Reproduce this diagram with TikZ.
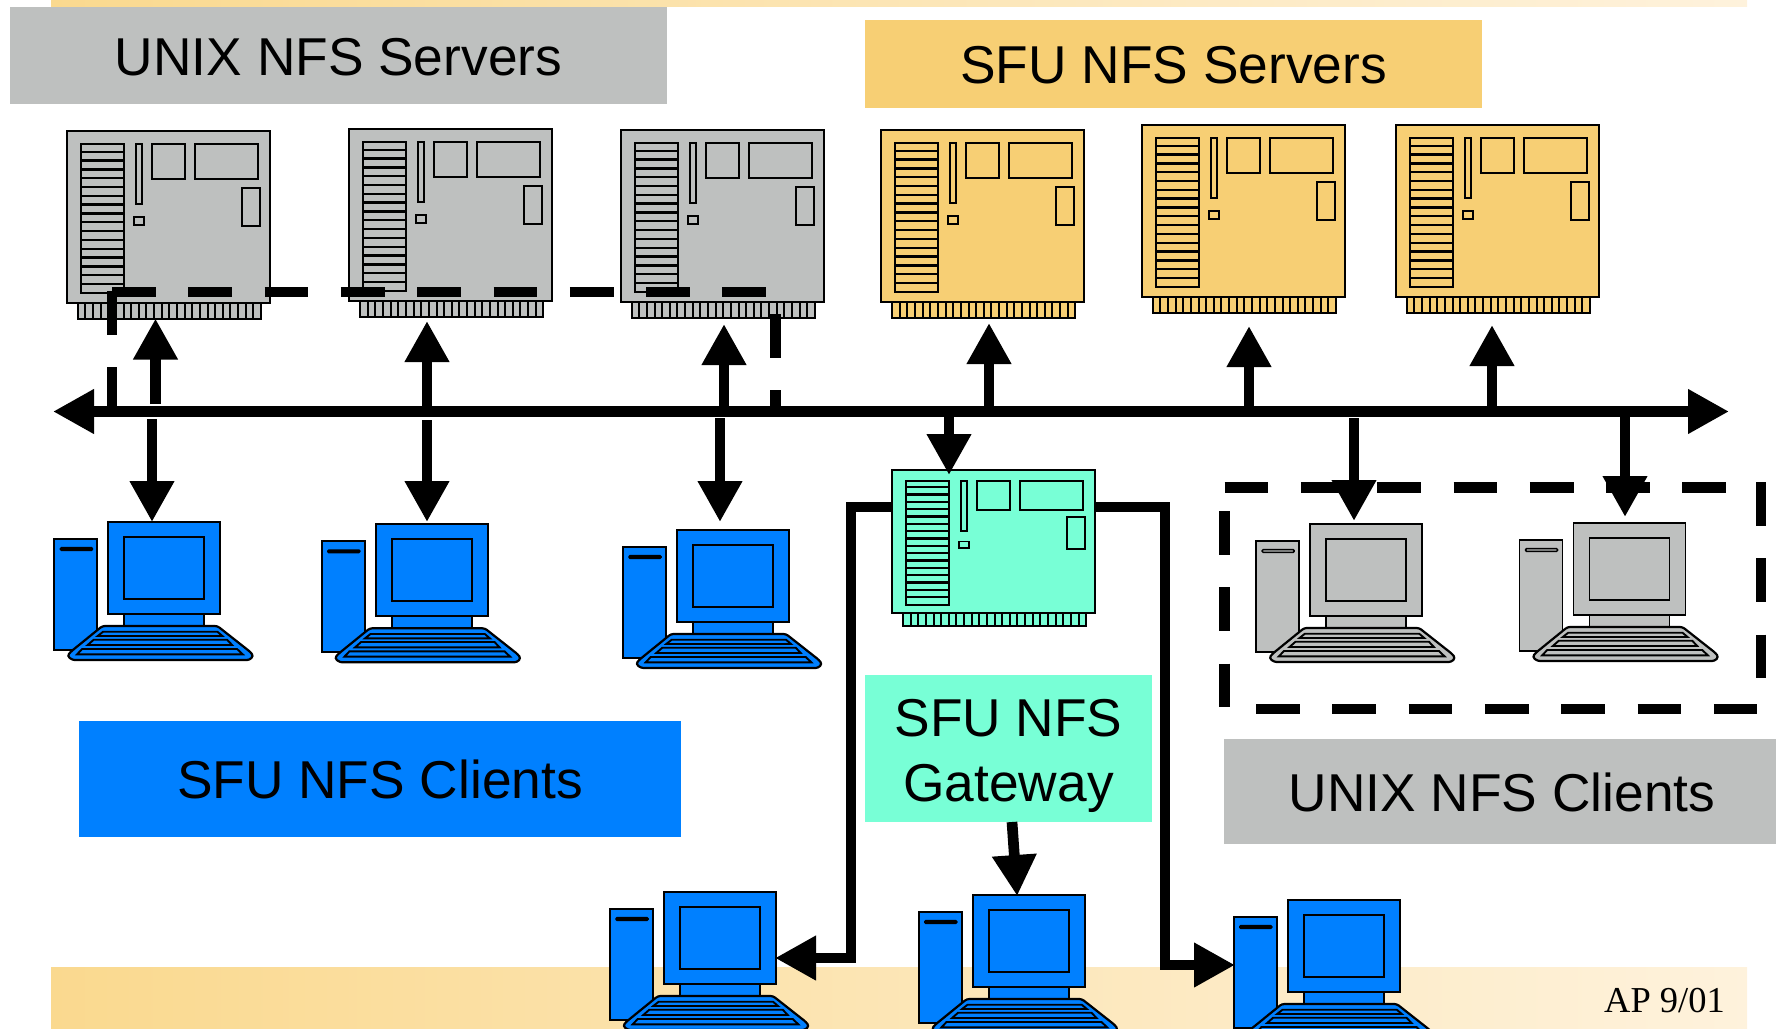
\documentclass[tikz,border=0pt]{standalone}
\usepackage{fontspec}
\setmainfont{Liberation Sans}
\newfontfamily\serifface{Liberation Serif}
\usetikzlibrary{arrows.meta}
\definecolor{grayc}{HTML}{BEC0BF}
\definecolor{orangec}{HTML}{F7CF74}
\definecolor{bluec}{HTML}{0080FF}
\definecolor{aquac}{HTML}{78FFD6}
\definecolor{bandl}{HTML}{FAD98F}
\definecolor{bandr}{HTML}{FEF2DC}
\tikzset{
  part/.style={draw=black,line width=1.9pt,line join=miter},
  label box/.style={inner sep=0pt,outer sep=0pt,align=center,font=\fontsize{53.3pt}{65.5pt}\selectfont},
  oneline/.style={label box,text height=39.5pt,text depth=0pt},
  wire/.style={line width=10.7pt,draw=black,line cap=butt,line join=miter},
  link/.style={wire,shorten >=-2pt,-{Triangle[length=41pt,width=42pt]}},
  both/.style={wire,shorten >=-2pt,shorten <=-2pt,{Triangle[length=41pt,width=42pt]}-{Triangle[length=41pt,width=42pt]}},
  dashline/.style={wire,dash pattern=on 43.7pt off 32.6pt},
}
\newcommand{\boardpic}[4]{%
  \begin{scope}[shift={(#1,#2)},yscale=#3]
    \draw[part,fill=#4] (0,0) rectangle (203,172);
    \draw[part,fill=#4] (11,172) rectangle (194,188);
    \foreach \t in {1,...,23} {\draw[black,line width=2pt] ({11+\t*7.63},172) -- ({11+\t*7.63},188);}
    \draw[part,fill=#4] (14,13) rectangle (57,162);
    \foreach \t in {0,...,15} {\draw[black,line width=2.4pt] (14,{20.7+\t*8.82}) -- (57,{20.7+\t*8.82});}
    \draw[part,fill=#4] (69,13) rectangle (75,73);
    \draw[part,fill=#4] (67,86) rectangle (77,94);
    \draw[part,fill=#4] (85,13) rectangle (118,48);
    \draw[part,fill=#4] (128,13) rectangle (191,48);
    \draw[part,fill=#4] (175,57) rectangle (193,95);
  \end{scope}}
\newcommand{\pcpic}[4]{%
  \begin{scope}[shift={(#1,#2)}]
    \draw[part,fill=#3] (-54,17) rectangle (-11,128);
    \draw[black,line width=1.5pt,fill=#4,rounded corners=1pt] (-48,25.7) rectangle (-16,28.3);
    \draw[part,fill=#3] (0,0) rectangle (112,92);
    \draw[part,fill=#3] (16,15) rectangle (96,77);
    \draw[part,fill=#3] (16,92) rectangle (96,104);
    \draw[part,fill=#3,line width=2.2pt,rounded corners=2.5pt] (-6,104) -- (109,104) -- (142,130) -- (145,134) -- (141,138) -- (-36,138) -- (-41,134) -- (-38,130) -- cycle;
    \draw[part,fill=#3] (-5.3,109.7) -- (109,109.7) -- (114,114) -- (-10.7,114) -- cycle;
    \draw[part,fill=#3] (-14.7,117.7) -- (118.7,117.7) -- (123.7,123) -- (-20.7,123) -- cycle;
    \draw[part,fill=#3] (-26.3,127) -- (128.7,127) -- (134.3,132.3) -- (-31.3,132.3) -- cycle;
  \end{scope}}
\begin{document}
\begin{tikzpicture}[x=1pt,y=-1pt]
\useasboundingbox (0,0) rectangle (1776,1028);
% bands
\shade[left color=bandl,right color=bandr] (51,0) rectangle (1747,6);
\shade[left color=bandl,right color=bandr] (51,967.5) rectangle (1747,1028);
% labels
\node[oneline,fill=grayc,minimum width=657pt,minimum height=97pt] (unixsrv) at (338.5,55.5) {UNIX NFS Servers};
\node[oneline,fill=orangec,minimum width=617pt,minimum height=88pt] (sfusrv) at (1173.5,64) {SFU NFS Servers};
\node[oneline,fill=bluec,minimum width=602pt,minimum height=116pt] (sfucli) at (380,778.5) {SFU NFS Clients};
\node[label box,fill=aquac,minimum width=287pt,minimum height=147pt] (gwlabel) at (1008.5,748.5) {\rule{0pt}{52pt}SFU NFS\\Gateway};
\node[label box,fill=grayc,minimum width=552pt,minimum height=105pt,text height=39.5pt,text depth=0pt,xshift=0pt] (unixcli) at (1500,791.5) {\hspace*{4pt}UNIX NFS Clients};
\node[anchor=base east,inner sep=0pt,font=\serifface\fontsize{36.5pt}{40pt}\selectfont] (stamp) at (1725,1012.5) {AP 9/01};
% server boards
\boardpic{66.8}{131}{1}{grayc}
\boardpic{349.2}{129}{1}{grayc}
\boardpic{620.7}{130}{1}{grayc}
\boardpic{881.2}{130}{1}{orangec}
\boardpic{1141.8}{125}{1}{orangec}
\boardpic{1395.8}{125}{1}{orangec}
% gateway
\boardpic{892}{470}{0.8314}{aquac}
% computers
\pcpic{108.4}{522}{bluec}{black}
\pcpic{375.8}{524.3}{bluec}{black}
\pcpic{677}{530}{bluec}{black}
\pcpic{1310.2}{524}{grayc}{grayc}
\pcpic{1573.5}{523}{grayc}{grayc}
\pcpic{664}{892}{bluec}{black}
\pcpic{972.8}{895}{bluec}{black}
\pcpic{1287.8}{900}{bluec}{black}
% named ends
\coordinate (busL) at (55,411.5); \coordinate (busR) at (1727,411.5);
\coordinate (dA) at (112,411); \coordinate (dB) at (112,291);
\coordinate (dC) at (112,292); \coordinate (dD) at (766,292);
\coordinate (dE) at (775.3,314); \coordinate (dF) at (775.3,411);
\coordinate (bTL) at (1224.6,487.7); \coordinate (bTR) at (1726,487.7);
\coordinate (bLT) at (1224.6,511); \coordinate (bLB) at (1224.6,707);
\coordinate (bBL) at (1256,709); \coordinate (bBR) at (1757,709);
\coordinate (bRT) at (1761,482); \coordinate (bRB) at (1761,680);
\coordinate (u1a) at (155.5,404); \coordinate (u1b) at (155.5,320.5);
\coordinate (u2a) at (427,411); \coordinate (u2b) at (427,323);
\coordinate (u3a) at (724,411); \coordinate (u3b) at (724,326);
\coordinate (u4a) at (989,411); \coordinate (u4b) at (989,325);
\coordinate (u5a) at (1249,411); \coordinate (u5b) at (1249,328);
\coordinate (u6a) at (1492,411); \coordinate (u6b) at (1492,327);
\coordinate (d1a) at (152,419); \coordinate (d1b) at (152,520);
\coordinate (d2a) at (427,420); \coordinate (d2b) at (427,520);
\coordinate (d3a) at (720,418); \coordinate (d3b) at (720,520);
\coordinate (d4a) at (949,411); \coordinate (d4b) at (949,473);
\coordinate (d5a) at (1354,418); \coordinate (d5b) at (1354,519);
\coordinate (d6a) at (1625,416); \coordinate (d6b) at (1625,515);
\coordinate (gLa) at (893,507); \coordinate (gLc) at (851,507); \coordinate (gLd) at (851,958); \coordinate (gLb) at (777,958);
\coordinate (gRa) at (1096,507); \coordinate (gRc) at (1165,507); \coordinate (gRd) at (1165,965); \coordinate (gRb) at (1233,965);
\coordinate (gMa) at (1012,822); \coordinate (gMb) at (1017,894);
% dashed groups
\draw[dashline] (dA) -- (dB);
\draw[dashline] (dC) -- (dD);
\draw[dashline] (dE) -- (dF);
\draw[dashline] (bTL) -- (bTR);
\draw[dashline] (bLT) -- (bLB);
\draw[dashline] (bBL) -- (bBR);
\draw[dashline] (bRT) -- (bRB);
% bus and arrows
\draw[both] (busL) -- (busR);
\foreach \n in {u1,u2,u3,u4,u5,u6,d1,d2,d3,d4,d5,d6,gM} {\draw[link] (\n a) -- (\n b);}
\draw[link] (gLa) -- (gLc) -- (gLd) -- (gLb);
\draw[link] (gRa) -- (gRc) -- (gRd) -- (gRb);
\end{tikzpicture}
\end{document}
